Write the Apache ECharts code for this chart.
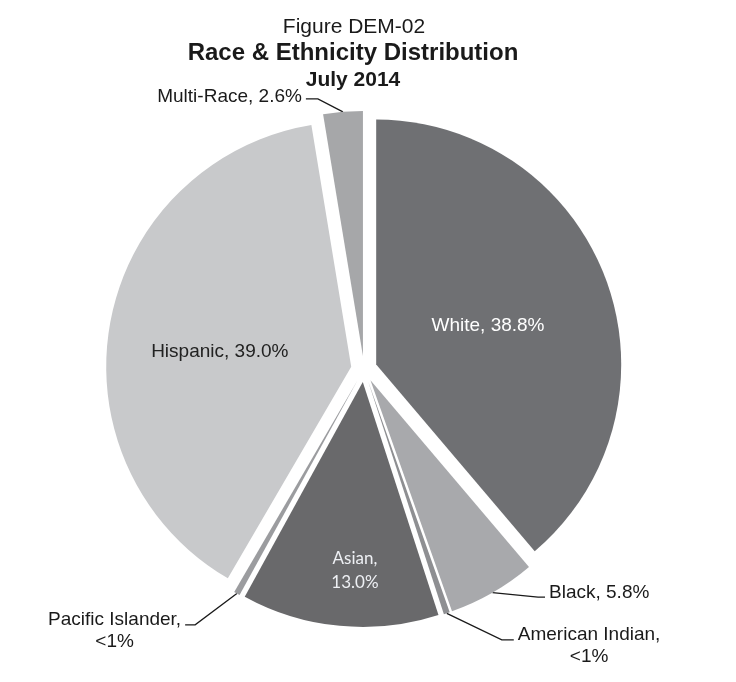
<!DOCTYPE html>
<html>
<head>
<meta charset="utf-8">
<script src="https://cdn.jsdelivr.net/npm/echarts@6/dist/echarts.min.js"></script>
<style>
html,body{margin:0;padding:0;background:#fff;}
#chart{width:736px;height:682px;}
</style>
</head>
<body>
<div id="chart"></div>
<script>
// ---- data ----
const categories = ['White', 'Black', 'American Indian', 'Asian', 'Pacific Islander', 'Hispanic', 'Multi-Race'];
const values = [38.8, 5.8, 0.4, 13.0, 0.4, 39.0, 2.6];
const valueLabels = ['38.8%', '5.8%', '<1%', '13.0%', '<1%', '39.0%', '2.6%'];
const titleLines = ['Figure DEM-02', 'Race & Ethnicity Distribution', 'July 2014'];

// ---- styles ----
const FONT = '"Liberation Sans", Arial, sans-serif';
const sliceColors = {
  'White': '#6f7073',
  'Black': '#a8a9ac',
  'American Indian': '#8e8f92',
  'Asian': '#69696b',
  'Pacific Islander': '#9b9c9f',
  'Hispanic': '#c8c9cb',
  'Multi-Race': '#a6a7a9'
};
const wrapped = { 'Asian': true, 'American Indian': true, 'Pacific Islander': true };
const insideStyle = {
  'White': { color: '#ffffff', fontFamily: FONT, fontSize: 19 },
  'Hispanic': { color: '#222222', fontFamily: FONT, fontSize: 19 },
  'Asian': { color: '#eef0f4', fontFamily: 'Lato, "Open Sans", sans-serif', fontSize: 17, lineHeight: 24 }
};
const outsideLine = {
  'Black': { length: 5, length2: 50 },
  'American Indian': { length: 28, length2: 58 },
  'Pacific Islander': { length: 36, length2: 34 },
  'Multi-Race': { length: 13, length2: 36 }
};
// horizontal part of each leader line (the rest is a straight diagonal to the slice)
const bendSeg = { 'Black': 7, 'American Indian': 12, 'Pacific Islander': 10, 'Multi-Race': 12 };
const labelShift = {
  'White': { dx: -6, dy: 4 },
  'Hispanic': { dx: -8, dy: 8 },
  'Asian': { dx: 4, dy: 64 },
  'Black': { dx: 0, dy: -4 },
  'American Indian': { dx: 0, dy: 6 },
  'Pacific Islander': { dx: 0, dy: 6 },
  'Multi-Race': { dx: 0, dy: -2 }
};

const data = categories.map((name, i) => {
  const item = {
    name: name,
    value: values[i],
    selected: true,
    itemStyle: { color: sliceColors[name] }
  };
  const text = wrapped[name] ? name + ',\n' + valueLabels[i] : name + ', ' + valueLabels[i];
  if (insideStyle[name]) {
    item.label = Object.assign({ show: true, position: 'inside', formatter: text }, insideStyle[name]);
    item.labelLine = { show: false };
  } else {
    const lines = text.split('\n').map(t => '{c|' + t + '}').join('\n');
    item.label = {
      show: true,
      position: 'outside',
      formatter: lines,
      distanceToLabelLine: 4,
      rich: { c: { align: 'center', fontFamily: FONT, fontSize: 19, color: '#1a1a1a', lineHeight: 22 } }
    };
    item.labelLine = Object.assign({ show: true, smooth: false, lineStyle: { color: '#1a1a1a', width: 1.3 } }, outsideLine[name]);
  }
  return item;
});

const chart = echarts.init(document.getElementById('chart'), null, { renderer: 'canvas' });
chart.setOption({
  animation: false,
  backgroundColor: '#ffffff',
  title: [
    { text: titleLines[0], left: 349, top: 12, textAlign: 'center',
      textStyle: { fontFamily: FONT, fontWeight: 'normal', fontSize: 21, color: '#1a1a1a' } },
    { text: titleLines[1], left: 348, top: 36, textAlign: 'center',
      textStyle: { fontFamily: FONT, fontWeight: 'bold', fontSize: 24, color: '#1a1a1a' } },
    { text: titleLines[2], left: 348, top: 65, textAlign: 'center',
      textStyle: { fontFamily: FONT, fontWeight: 'bold', fontSize: 21, color: '#1a1a1a' } }
  ],
  series: [{
    type: 'pie',
    center: [364, 369],
    radius: 245,
    startAngle: 90,
    clockwise: true,
    selectedMode: 'multiple',
    selectedOffset: 13,
    avoidLabelOverlap: false,
    minShowLabelAngle: 0,
    emphasis: { disabled: true },
    labelLayout: function (params) {
      const name = categories[params.dataIndex];
      const out = {};
      const s = labelShift[name];
      if (s) { out.dx = s.dx; out.dy = s.dy; }
      const pts = params.labelLinePoints;
      if (bendSeg[name] != null && pts && pts.length === 3) {
        const p0 = pts[0], p2 = pts[2];
        const dir = p2[0] >= p0[0] ? 1 : -1;
        out.labelLinePoints = [p0, [p2[0] - dir * bendSeg[name], p2[1]], p2];
      }
      return out;
    },
    data: data
  }]
});
</script>
</body>
</html>
